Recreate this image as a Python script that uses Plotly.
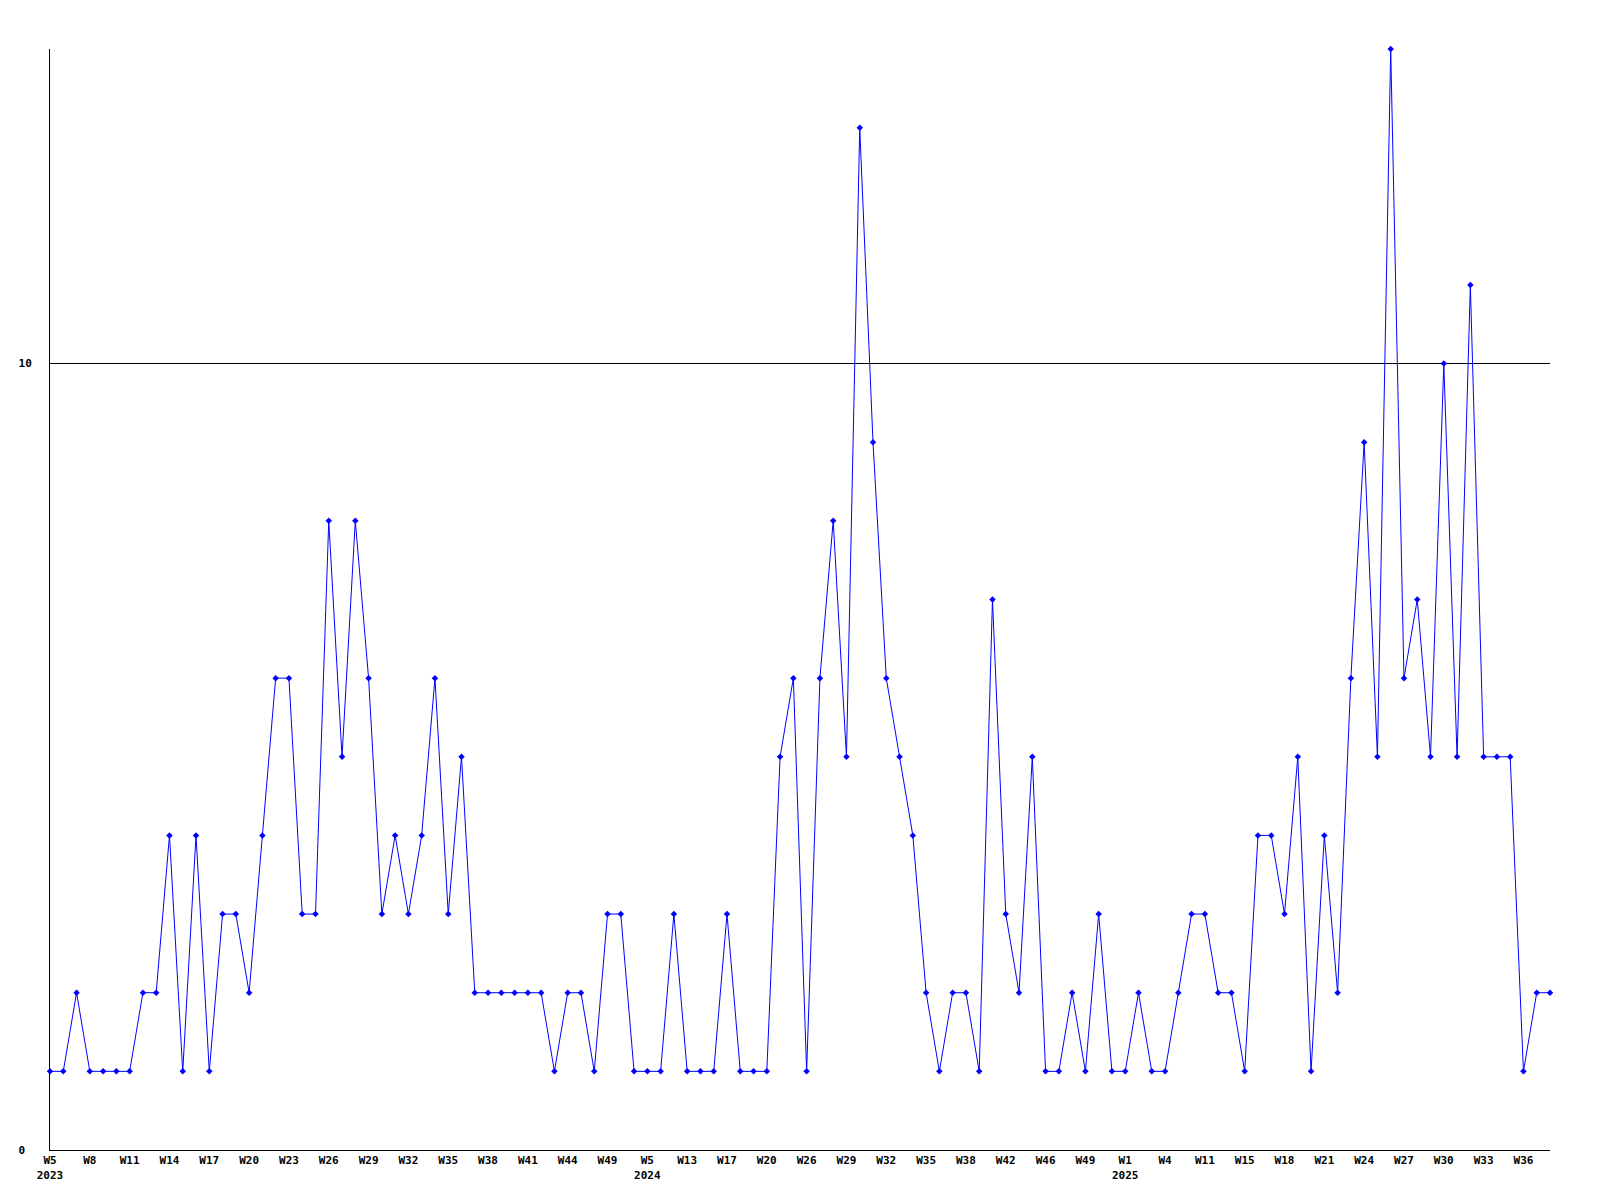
"""Weekly counts line chart, 2023 W5 - 2025 W38."""

import plotly.graph_objects as go

# ISO weeks that have a data point, per year
WEEKS_2023 = [5, 6, 7, 8, 9, 10, 11, 12, 13, 14, 15, 16, 17, 18, 19, 20, 21, 22, 23, 24,
              25, 26, 27, 28, 29, 30, 31, 32, 33, 34, 35, 36, 37, 38, 39, 40, 41, 42, 43, 44,
              46, 48, 49, 50, 51]
WEEKS_2024 = [5, 8, 11, 13, 14, 16, 17, 18, 19, 20, 22, 24, 26, 27, 28, 29, 30, 31, 32, 33,
              34, 35, 36, 37, 38, 39, 41, 42, 43, 45, 46, 47, 48, 49, 50, 52]
WEEKS_2025 = [1, 2, 3, 4, 7, 9, 11, 12, 14, 15, 16, 17, 18, 19, 20, 21, 22, 23, 24, 25,
              26, 27, 28, 29, 30, 31, 32, 33, 34, 35, 36, 37, 38]

COUNTS = [
    1, 1, 2, 1, 1, 1, 1, 2, 2, 4, 1, 4, 1, 3, 3, 2, 4, 6, 6, 3,
    3, 8, 5, 8, 6, 3, 4, 3, 4, 6, 3, 5, 2, 2, 2, 2, 2, 2, 1, 2,
    2, 1, 3, 3, 1, 1, 1, 3, 1, 1, 1, 3, 1, 1, 1, 5, 6, 1, 6, 8,
    5, 13, 9, 6, 5, 4, 2, 1, 2, 2, 1, 7, 3, 2, 5, 1, 1, 2, 1, 3,
    1, 1, 2, 1, 1, 2, 3, 3, 2, 2, 1, 4, 4, 3, 5, 1, 4, 2, 6, 9,
    5, 14, 6, 7, 5, 10, 5, 11, 5, 5, 5, 1, 2, 2,
]

Y_TICKS = [0, 10]
LABEL_EVERY = 3

FONT = "DejaVu Sans Mono"
LINE_BLUE = "#0000ff"

years = [2023] * len(WEEKS_2023) + [2024] * len(WEEKS_2024) + [2025] * len(WEEKS_2025)
weeks = WEEKS_2023 + WEEKS_2024 + WEEKS_2025
categories = [f"{y}-W{w:02d}" for y, w in zip(years, weeks)]

tick_vals = []
tick_text = []
prev_year = None
for i in range(0, len(categories), LABEL_EVERY):
    label = f"W{weeks[i]}"
    if years[i] != prev_year:
        label += f"<br>{years[i]}"
        prev_year = years[i]
    tick_vals.append(categories[i])
    tick_text.append(label)

tick_font = dict(family=FONT, size=11, color="black", weight="bold")

fig = go.Figure()
fig.add_trace(
    go.Scatter(
        x=categories,
        y=COUNTS,
        mode="lines+markers",
        line=dict(color=LINE_BLUE, width=1),
        marker=dict(symbol="diamond", size=5, color=LINE_BLUE),
        cliponaxis=False,
        showlegend=False,
    )
)

# the page body adds an 8px offset, so margins are shifted to compensate
fig.update_layout(
    width=1600,
    height=1200,
    paper_bgcolor="white",
    plot_bgcolor="white",
    margin=dict(l=42, r=58, t=41, b=58),
    font=dict(family=FONT, size=11, color="black"),
    xaxis=dict(
        type="category",
        range=[0, len(categories) - 1],
        tickmode="array",
        tickvals=tick_vals,
        ticktext=tick_text,
        tickfont=tick_font,
        showgrid=False,
        showline=True,
        linecolor="black",
        linewidth=1,
        ticks="",
        zeroline=False,
    ),
    yaxis=dict(
        range=[0, 14],
        tickmode="array",
        tickvals=Y_TICKS,
        ticktext=["0\u00a0", "10"],
        tickfont=tick_font,
        showgrid=True,
        gridcolor="black",
        gridwidth=1,
        showline=True,
        linecolor="black",
        linewidth=1,
        ticks="",
        ticklabelstandoff=15,
        zeroline=False,
    ),
)

fig.write_html("out.html")
